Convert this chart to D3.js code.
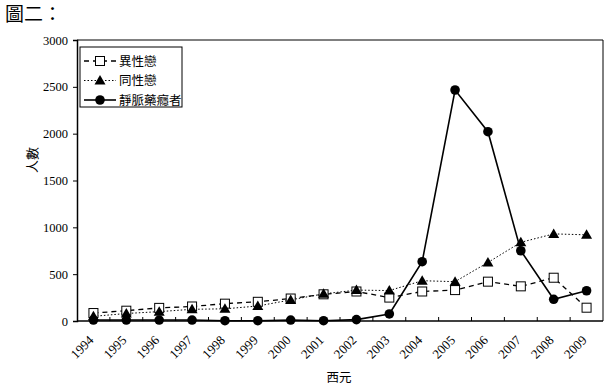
<!DOCTYPE html>
<html>
<head>
<meta charset="utf-8">
<script src="https://cdn.jsdelivr.net/npm/d3@7/dist/d3.min.js"></script>
<style>
  body { margin: 0; background: #fff; }
  svg { display: block; }
</style>
</head>
<body>
<svg id="chart"></svg>
<script>
const years = ["1994","1995","1996","1997","1998","1999","2000","2001",
  "2002","2003","2004","2005","2006","2007","2008","2009"];
const hetero = [85, 110, 140, 155, 185, 205, 240, 285, 315, 250, 315, 330, 420, 370, 462, 142];
const homo = [50, 80, 100, 125, 130, 160, 225, 290, 330, 325, 430, 420, 625, 840, 930, 920];
const idu = [10, 10, 10, 10, 3, 3, 10, 3, 15, 75, 633, 2466, 2021, 750, 232, 323];
const yTicks = [0, 500, 1000, 1500, 2000, 2500, 3000];
const seriesNames = ["異性戀", "同性戀", "靜脈藥癮者"];

const W = 604, H = 385;
const margin = { top: 40, right: 1, bottom: 64, left: 77 };
const serif = "'Liberation Serif', 'DejaVu Serif', serif";
const cjk = "'Noto Sans CJK TC', 'Noto Sans CJK SC', sans-serif";

const svg = d3.select("#chart").attr("width", W).attr("height", H);

const x = d3.scaleBand()
  .domain(years)
  .range([margin.left, W - margin.right]);
const y = d3.scaleLinear()
  .domain([0, 3000])
  .range([H - margin.bottom, margin.top]);

// title
svg.append("text")
  .attr("x", 5).attr("y", 21)
  .style("font-family", cjk).style("font-size", "19px")
  .text("圖二：");

// plot frame (top and right)
svg.append("path")
  .attr("d", `M${margin.left},${margin.top}H${W - margin.right}V${H - margin.bottom}`)
  .attr("fill", "none").attr("stroke", "#000").attr("stroke-width", 1);

// y axis
const yAxis = svg.append("g")
  .attr("transform", `translate(${margin.left},0)`)
  .call(d3.axisLeft(y).tickValues(yTicks).tickFormat(d3.format("d")).tickSize(4).tickPadding(5));
yAxis.select(".domain").attr("stroke-width", 1.5);
yAxis.selectAll("text").style("font-family", serif).style("font-size", "12.5px");

// x axis, ticks at band edges pointing up
const xAxisG = svg.append("g")
  .attr("transform", `translate(0,${H - margin.bottom})`);
xAxisG.append("line")
  .attr("x1", margin.left).attr("x2", W - margin.right)
  .attr("stroke", "#000").attr("stroke-width", 1.5);
xAxisG.selectAll(".tk")
  .data(years.slice(1))
  .enter().append("line")
  .attr("x1", d => x(d)).attr("x2", d => x(d))
  .attr("y1", 0).attr("y2", -4)
  .attr("stroke", "#000");
xAxisG.selectAll(".lbl")
  .data(years)
  .enter().append("text")
  .attr("text-anchor", "end")
  .attr("transform", d => `translate(${x(d) + x.bandwidth() / 2 + 1},${20}) rotate(-45)`)
  .style("font-family", serif).style("font-size", "13px")
  .text(d => d);

// axis titles
svg.append("text")
  .attr("transform", "translate(37,160) rotate(-90)")
  .attr("text-anchor", "middle")
  .style("font-family", cjk).style("font-size", "13px")
  .text("人數");
svg.append("text")
  .attr("x", 339).attr("y", 382)
  .attr("text-anchor", "middle")
  .style("font-family", cjk).style("font-size", "12.5px")
  .text("西元");

const cx = d => x(d) + x.bandwidth() / 2;
const line = d3.line().x(d => cx(d.year)).y(d => y(d.v));
const toPts = arr => years.map((yr, i) => ({ year: yr, v: arr[i] }));

const series = [
  { data: toPts(hetero), dash: "5,4", width: 1.3, marker: "square" },
  { data: toPts(homo), dash: "1.5,2", width: 1, marker: "triangle" },
  { data: toPts(idu), dash: null, width: 1.6, marker: "circle" }
];

function drawMarker(g, type, px, py) {
  if (type === "square") {
    g.append("rect")
      .attr("x", px - 4.5).attr("y", py - 4.5)
      .attr("width", 9).attr("height", 9)
      .attr("fill", "#fff").attr("stroke", "#000").attr("stroke-width", 1);
  } else if (type === "triangle") {
    g.append("path")
      .attr("d", `M${px},${py - 5.5}L${px + 5.5},${py + 4}L${px - 5.5},${py + 4}Z`)
      .attr("fill", "#000");
  } else {
    g.append("circle")
      .attr("cx", px).attr("cy", py).attr("r", 4.8)
      .attr("fill", "#000");
  }
}

series.forEach(s => {
  svg.append("path")
    .datum(s.data)
    .attr("d", line)
    .attr("fill", "none")
    .attr("stroke", "#000")
    .attr("stroke-width", s.width)
    .attr("stroke-dasharray", s.dash);
});
series.forEach(s => {
  const g = svg.append("g");
  s.data.forEach(d => drawMarker(g, s.marker, cx(d.year), y(d.v)));
});

// legend
const lg = svg.append("g").attr("transform", "translate(80,47)");
lg.append("rect")
  .attr("width", 102).attr("height", 60)
  .attr("fill", "#fff").attr("stroke", "#000").attr("stroke-width", 1);
series.forEach((s, i) => {
  const ly = 14 + i * 19.5;
  lg.append("line")
    .attr("x1", 4).attr("x2", 36).attr("y1", ly).attr("y2", ly)
    .attr("stroke", "#000")
    .attr("stroke-width", s.width)
    .attr("stroke-dasharray", s.dash);
  drawMarker(lg, s.marker, 20, ly);
  lg.append("text")
    .attr("x", 39).attr("y", ly + 4.5)
    .style("font-family", cjk).style("font-size", "12.5px")
    .text(seriesNames[i]);
});
</script>
</body>
</html>
